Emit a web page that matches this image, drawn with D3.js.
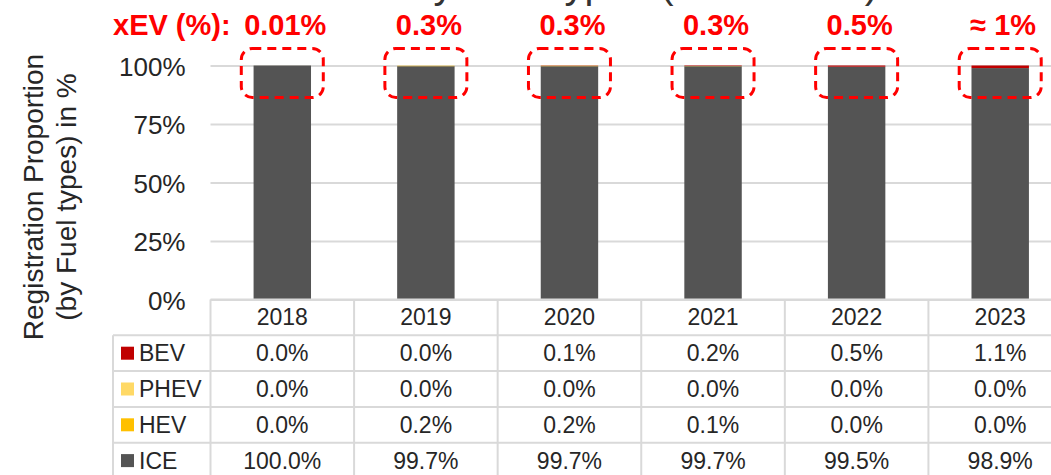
<!DOCTYPE html>
<html>
<head>
    <meta charset="utf-8">
    <title>Registration Proportion by Fuel types</title>
    <script src="https://d3js.org/d3.v7.min.js"></script>
    <style>
        body { margin: 0; background: #fff; }
        svg { display: block; font-family: "Liberation Sans", Arial, sans-serif; }
    </style>
</head>
<body>
    <svg width="1051" height="475"></svg>
    <script>
        // data (percent)
        const years = ["2018", "2019", "2020", "2021", "2022", "2023"];
        const bev  = [0.0, 0.0, 0.1, 0.2, 0.5, 1.1];
        const phev = [0.0, 0.0, 0.0, 0.0, 0.0, 0.0];
        const hev  = [0.01, 0.2, 0.2, 0.1, 0.0, 0.0];
        const ice  = [99.99, 99.7, 99.7, 99.7, 99.5, 98.9];
        const xevLabels = ["0.01%", "0.3%", "0.3%", "0.3%", "0.5%", "≈ 1%"];
        const yTicks = [0, 25, 50, 75, 100];
        const seriesNames = ["BEV", "PHEV", "HEV", "ICE"];

        const colors = {BEV: "#C00000", PHEV: "#FFD966", HEV: "#FFC000", ICE: "#545454"};
        const values = {BEV: bev, PHEV: phev, HEV: hev, ICE: ice};

        const svg = d3.select("svg");
        const plotLeft = 210.5, plotRight = 1072, plotTop = 65.5, plotBottom = 299.5;
        const rowH = 35.8;

        const x = d3.scaleBand().domain(years).range([plotLeft, plotRight]);
        const y = d3.scaleLinear().domain([0, 100]).range([plotBottom, plotTop]);
        const barW = x.bandwidth() * 0.4;

        // title, cut off at the top of the picture (only descenders show)
        svg.append("text")
            .attr("x", 300).attr("y", -2)
            .attr("font-size", 40).attr("fill", "#333")
            .text("Sales by Fuel types (2018-2023)");

        // y axis with gridlines
        const yAxis = svg.append("g")
            .attr("transform", `translate(${plotLeft},0)`)
            .call(d3.axisLeft(y).tickValues(yTicks).tickFormat(d => d + "%")
                .tickSize(-(plotRight - plotLeft)).tickPadding(25));
        yAxis.select(".domain").remove();
        yAxis.selectAll("line").attr("stroke", "#D9D9D9").attr("stroke-width", 2);
        yAxis.selectAll("text")
            .attr("font-size", 26).attr("fill", "#262626")
            .attr("font-family", "Liberation Sans, Arial, sans-serif")
            .attr("dy", "0.38em");

        // y axis title
        const yTitle = svg.append("text")
            .attr("transform", "translate(0,197) rotate(-90)")
            .attr("text-anchor", "middle")
            .attr("font-size", 28).attr("fill", "#262626");
        yTitle.append("tspan").attr("x", 0).attr("y", 43).text("Registration Proportion");
        yTitle.append("tspan").attr("x", 0).attr("y", 76).text("(by Fuel types) in %");

        // stacked bars
        const rows = years.map((yr, i) => ({year: yr, ICE: ice[i], HEV: hev[i], PHEV: phev[i], BEV: bev[i]}));
        const stack = d3.stack().keys(["ICE", "HEV", "PHEV", "BEV"])(rows);

        svg.append("g").selectAll("g")
            .data(stack)
            .enter().append("g")
            .attr("fill", d => colors[d.key])
            .selectAll("rect")
            .data(d => d)
            .enter().append("rect")
            .attr("x", d => x(d.data.year) + (x.bandwidth() - barW) / 2)
            .attr("width", barW)
            .attr("y", d => y(d[1]))
            .attr("height", d => y(d[0]) - y(d[1]));

        // xEV annotations
        svg.append("text")
            .attr("x", 113).attr("y", 35)
            .attr("font-size", 29).attr("font-weight", "bold").attr("fill", "#FF0000")
            .text("xEV (%):");

        svg.append("g").selectAll("text")
            .data(years)
            .enter().append("text")
            .attr("x", d => x(d) + x.bandwidth() / 2 + 3)
            .attr("y", 35)
            .attr("text-anchor", "middle")
            .attr("font-size", 29).attr("font-weight", "bold").attr("fill", "#FF0000")
            .text((d, i) => xevLabels[i]);

        svg.append("g").selectAll("rect")
            .data(years)
            .enter().append("rect")
            .attr("x", d => x(d) + x.bandwidth() / 2 - 41)
            .attr("y", y(100) - 17)
            .attr("width", 82)
            .attr("height", 49)
            .attr("rx", 11)
            .attr("fill", "none")
            .attr("stroke", "#FF0000")
            .attr("stroke-width", 3)
            .attr("stroke-dasharray", "9 6");

        // data table
        const table = svg.append("g");
        const legendLeft = 113;
        const lineColor = "#D9D9D9";

        // horizontal lines
        table.append("line")
            .attr("x1", plotLeft).attr("x2", plotRight)
            .attr("y1", plotBottom).attr("y2", plotBottom)
            .attr("stroke", lineColor).attr("stroke-width", 2);
        for (let r = 1; r <= seriesNames.length + 1; r++) {
            table.append("line")
                .attr("x1", legendLeft).attr("x2", plotRight)
                .attr("y1", plotBottom + r * rowH).attr("y2", plotBottom + r * rowH)
                .attr("stroke", lineColor).attr("stroke-width", 2);
        }
        // vertical lines
        table.append("line")
            .attr("x1", legendLeft).attr("x2", legendLeft)
            .attr("y1", plotBottom + rowH).attr("y2", plotBottom + 5 * rowH)
            .attr("stroke", lineColor).attr("stroke-width", 2);
        years.concat([null]).forEach((yr, i) => {
            const xx = plotLeft + i * x.step();
            table.append("line")
                .attr("x1", xx).attr("x2", xx)
                .attr("y1", plotBottom).attr("y2", plotBottom + 5 * rowH)
                .attr("stroke", lineColor).attr("stroke-width", 2);
        });

        // header row: years
        table.selectAll(".year")
            .data(years)
            .enter().append("text")
            .attr("class", "year")
            .attr("x", d => x(d) + x.bandwidth() / 2)
            .attr("y", plotBottom + rowH / 2 + 8)
            .attr("text-anchor", "middle")
            .attr("font-size", 23).attr("fill", "#262626")
            .text(d => d);

        // series rows
        seriesNames.forEach((name, r) => {
            const cy = plotBottom + (r + 1.5) * rowH;
            table.append("rect")
                .attr("x", 121).attr("y", cy - 6.5)
                .attr("width", 13).attr("height", 13)
                .attr("fill", colors[name]);
            table.append("text")
                .attr("x", 139).attr("y", cy + 8)
                .attr("font-size", 23).attr("fill", "#262626")
                .text(name);
            table.selectAll(".v" + name)
                .data(years)
                .enter().append("text")
                .attr("x", d => x(d) + x.bandwidth() / 2)
                .attr("y", cy + 8)
                .attr("text-anchor", "middle")
                .attr("font-size", 23).attr("fill", "#262626")
                .text((d, i) => values[name][i].toFixed(1) + "%");
        });
    </script>
</body>
</html>
